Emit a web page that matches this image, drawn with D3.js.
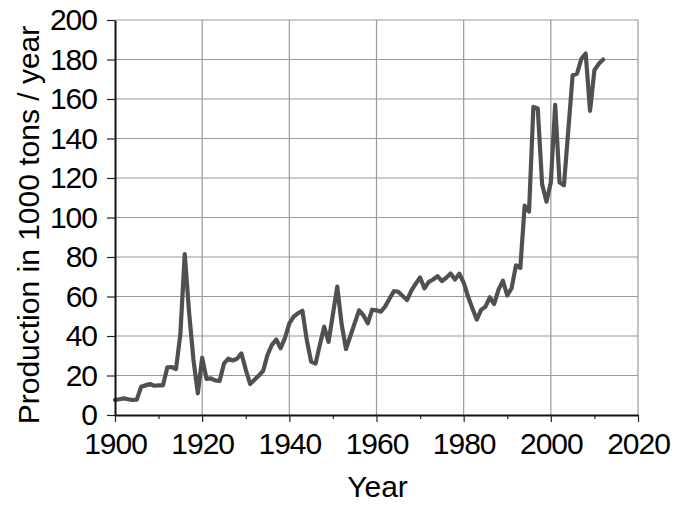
<!DOCTYPE html>
<html>
<head>
<meta charset="utf-8">
<script src="https://cdn.jsdelivr.net/npm/d3@7"></script>
<style>
  html, body { margin: 0; padding: 0; background: #fff; }
  svg { display: block; }
  text { font-family: "Liberation Sans", Arial, Helvetica, sans-serif; fill: #000; }
</style>
</head>
<body>
<svg id="chart" width="674" height="512"></svg>
<script>
const startYear = 1900;
const production = [
  7.6, 8, 8.4, 8, 7.6, 7.8, 14.3, 15, 15.7, 14.8,
  15, 15, 24.1, 24.3, 23.3, 41, 81.5, 52, 28, 11,
  29, 18.3, 18.5, 17.5, 17.2, 26, 28.5, 27.6, 28.5, 31.2,
  23, 15.7, 17.8, 20, 22.4, 30.5, 35.5, 38.2, 33.8, 39,
  46.4, 49.8, 51.5, 52.8, 38, 27, 26, 35.5, 44.7, 37,
  51, 65, 46, 33.4, 40, 46.5, 53, 50.5, 46.4, 53.3,
  53, 52.3, 55, 59, 62.7, 62.4, 60.3, 58.2, 63, 66.5,
  69.6, 64.1, 67.4, 68.6, 70.3, 67.8, 69.5, 71.6, 68.6, 71.5,
  67, 60, 54, 48.3, 53.2, 54.9, 59.6, 56.2, 63.5, 68,
  60.5, 64.2, 75.8, 74.5, 106, 103, 156, 155.2, 116.8, 108,
  117.8, 157, 117.8, 116.3, 144, 172, 172.8, 180.3, 183, 154,
  174.6, 177.8, 180
];
const years = production.map((_, i) => startYear + i);
const xTicks = [1900, 1920, 1940, 1960, 1980, 2000, 2020];
const xMinorTicks = [1910, 1930, 1950, 1970, 1990, 2010];
const yTicks = [0, 20, 40, 60, 80, 100, 120, 140, 160, 180, 200];
const xTitle = "Year";
const yTitle = "Production in 1000 tons / year";

const svg = d3.select("#chart");
const L = 115, R = 638, T = 20, B = 415;
const x = d3.scaleLinear().domain([1900, 2020]).range([L, R]);
const y = d3.scaleLinear().domain([0, 200]).range([B, T]);

// grid
const grid = svg.append("g");
grid.selectAll("line.v").data(xTicks.slice(1)).join("line")
  .attr("x1", d => x(d)).attr("x2", d => x(d))
  .attr("y1", T).attr("y2", B)
  .attr("stroke", "#9a9a9a").attr("stroke-width", 1.2);
grid.selectAll("line.h").data(yTicks.slice(1)).join("line")
  .attr("x1", L).attr("x2", R)
  .attr("y1", d => y(d)).attr("y2", d => y(d))
  .attr("stroke", "#9a9a9a").attr("stroke-width", 1.2);

// line
const line = d3.line().x((d, i) => x(years[i])).y(d => y(d));
svg.append("path").datum(production)
  .attr("d", line)
  .attr("fill", "none")
  .attr("stroke", "#505050")
  .attr("stroke-width", 4.2)
  .attr("stroke-linejoin", "round")
  .attr("stroke-linecap", "round");

// axes
const tickFs = "30px";
const titleFs = "30px";
const yAxis = svg.append("g").attr("transform", `translate(${L},0)`)
  .call(d3.axisLeft(y).tickValues(yTicks).tickFormat(d3.format("d"))
    .tickSize(8).tickPadding(10).tickSizeOuter(0));
yAxis.selectAll("text").style("font-size", tickFs).style("letter-spacing", "-1px").attr("fill", "#000");

const xAxis = svg.append("g").attr("transform", `translate(0,${B})`)
  .call(d3.axisBottom(x).tickValues(xTicks).tickFormat(d3.format("d"))
    .tickSize(7).tickPadding(11).tickSizeOuter(0));
xAxis.selectAll("text").style("font-size", tickFs).style("letter-spacing", "-1px").attr("fill", "#000");

svg.append("g").attr("transform", `translate(0,${B})`)
  .call(d3.axisBottom(x).tickValues(xMinorTicks).tickSize(4).tickFormat("").tickSizeOuter(0))
  .select(".domain").remove();

svg.selectAll(".domain").attr("stroke", "#111").attr("stroke-width", 2);
svg.selectAll(".tick line").attr("stroke", "#222").attr("stroke-width", 1.2);

// titles
svg.append("text").attr("x", (L + R) / 2 + 1).attr("y", 497)
  .attr("text-anchor", "middle").style("font-size", titleFs).text(xTitle);
svg.append("text").attr("transform", "translate(39,225) rotate(-90)")
  .attr("text-anchor", "middle").style("font-size", titleFs).text(yTitle);
</script>
</body>
</html>
